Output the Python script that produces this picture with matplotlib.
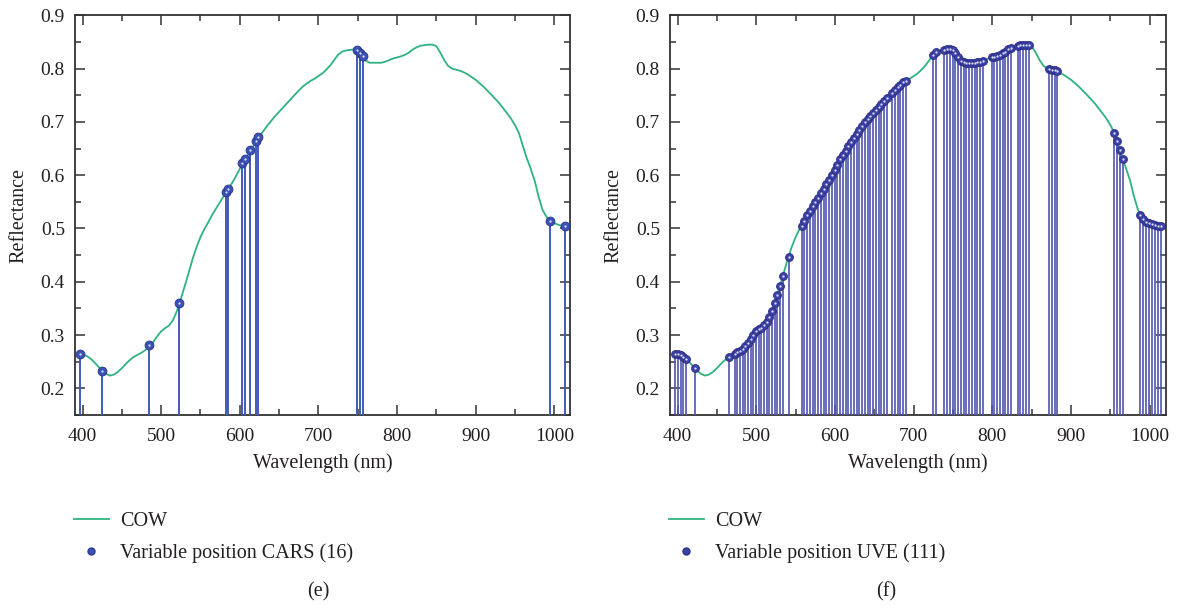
import matplotlib
matplotlib.use('Agg')
import matplotlib.pyplot as plt
from matplotlib.lines import Line2D
from matplotlib.ticker import MultipleLocator

plt.rcParams['font.family'] = ['Liberation Serif', 'DejaVu Serif']

# ---------------- data ----------------
cow_wl = [397, 400, 405, 410, 415, 420, 425, 430, 435, 440, 445, 450, 455, 460, 465,
          470, 475, 480, 485, 490, 495, 500, 505, 510, 515, 520, 525, 530, 535, 540,
          545, 550, 555, 560, 565, 570, 575, 580, 585, 590, 595, 600, 605, 610, 615,
          620, 625, 630, 635, 640, 645, 650, 655, 660, 665, 670, 675, 680, 685, 690,
          695, 700, 705, 710, 715, 720, 725, 730, 735, 740, 745, 750, 755, 760, 765,
          770, 775, 780, 785, 790, 795, 800, 805, 810, 815, 820, 825, 830, 835, 840,
          845, 850, 855, 860, 865, 870, 875, 880, 885, 890, 895, 900, 910, 920, 930,
          940, 945, 950, 955, 960, 965, 970, 975, 980, 985, 990, 995, 1000, 1005, 1010,
          1015, 1019]
cow_refl = [0.265, 0.264, 0.261, 0.256, 0.249, 0.241, 0.233, 0.227, 0.224, 0.226, 0.231, 0.238, 0.246, 0.253, 0.259,
            0.263, 0.267, 0.272, 0.279, 0.287, 0.298, 0.307, 0.313, 0.318, 0.328, 0.345, 0.368, 0.392, 0.417, 0.443,
            0.465, 0.484, 0.499, 0.512, 0.526, 0.538, 0.550, 0.562, 0.574, 0.585, 0.598, 0.612, 0.627, 0.637, 0.649,
            0.661, 0.672, 0.683, 0.693, 0.702, 0.711, 0.719, 0.727, 0.735, 0.743, 0.751, 0.759, 0.766, 0.772, 0.777,
            0.781, 0.786, 0.791, 0.798, 0.806, 0.816, 0.826, 0.832, 0.834, 0.835, 0.836, 0.834, 0.825, 0.815, 0.811,
            0.811, 0.811, 0.811, 0.813, 0.816, 0.819, 0.821, 0.823, 0.826, 0.830, 0.836, 0.840, 0.843, 0.844, 0.845,
            0.845, 0.842, 0.830, 0.816, 0.805, 0.800, 0.798, 0.796, 0.793, 0.789, 0.784, 0.779, 0.766, 0.751, 0.735,
            0.716, 0.706, 0.694, 0.679, 0.655, 0.632, 0.612, 0.590, 0.560, 0.535, 0.522, 0.514, 0.510, 0.507, 0.505,
            0.504, 0.503]

cars_wl = [397, 424.6, 485, 523, 582, 585.6, 602.5, 606, 613, 620.8, 623.3, 749, 753, 756.5, 995, 1013.6]
cars_refl = [0.264, 0.233, 0.282, 0.361, 0.568, 0.575, 0.622, 0.631, 0.647, 0.664, 0.672, 0.834, 0.830, 0.824, 0.514, 0.505]

uve_wl = [397.0, 400.4, 403.8, 407.2, 410.6,
          422.0,
          465.6, 472.4, 475.8, 479.2, 482.6, 486.0, 489.4, 492.8, 496.2, 499.6, 503.0, 506.4, 509.8, 513.2,
          516.6, 520.0, 523.4, 526.8, 530.2, 533.6, 541.0,
          557.5, 561.0, 564.5, 568.0, 571.5, 575.0, 578.5, 582.0, 585.5, 589.0, 592.5, 596.0, 599.5, 603.0,
          606.5, 610.0, 613.5, 617.0, 620.5, 624.0, 627.5, 631.0, 634.5, 638.0, 641.5, 645.0, 648.5, 652.0,
          655.5, 659.0, 662.5, 666.0,
          672.5, 676.0, 679.5, 683.0, 686.5, 690.0,
          724.5, 728.5,
          739.0, 742.5, 746.0, 749.5, 753.0, 756.5, 760.0, 763.5, 767.0, 770.5, 774.0, 777.5, 781.0, 784.5, 788.0,
          799.0, 802.5, 806.0, 809.5, 813.0, 816.5, 820.0, 823.5,
          832.0, 835.5, 839.0, 842.5, 846.0,
          872.0, 875.5, 879.0, 882.5,
          955.0, 958.5, 962.0, 965.5,
          988.0, 991.8, 995.6, 999.4, 1003.2, 1007.0, 1010.8, 1014.6]
uve_refl = [0.265, 0.264, 0.262, 0.259, 0.255,
            0.238,
            0.258, 0.265, 0.268, 0.271, 0.274, 0.279, 0.286, 0.293, 0.300, 0.307, 0.311, 0.314, 0.318, 0.324,
            0.333, 0.345, 0.360, 0.376, 0.393, 0.411, 0.447,
            0.505, 0.515, 0.525, 0.533, 0.542, 0.550, 0.558, 0.567, 0.575, 0.583, 0.591, 0.600, 0.610, 0.620,
            0.630, 0.637, 0.645, 0.654, 0.662, 0.670, 0.678, 0.685, 0.692, 0.699, 0.705, 0.711, 0.717, 0.722,
            0.728, 0.734, 0.739, 0.744,
            0.755, 0.760, 0.766, 0.770, 0.774, 0.777,
            0.826, 0.831,
            0.835, 0.836, 0.836, 0.834, 0.829, 0.822, 0.815, 0.812, 0.811, 0.811, 0.811, 0.811, 0.812, 0.813, 0.815,
            0.821, 0.822, 0.824, 0.826, 0.829, 0.832, 0.836, 0.839,
            0.843, 0.844, 0.845, 0.845, 0.844,
            0.800, 0.798, 0.797, 0.795,
            0.680, 0.665, 0.647, 0.630,
            0.526, 0.518, 0.513, 0.510, 0.508, 0.507, 0.505, 0.504]

x_ticks = [400, 500, 600, 700, 800, 900, 1000]
y_ticks = [0.2, 0.3, 0.4, 0.5, 0.6, 0.7, 0.8, 0.9]
x_limits = (390, 1020)
y_limits = (0.15, 0.9)

panels = [
    dict(wl=cars_wl, refl=cars_refl, label='Variable position CARS (16)', tag='(e)',
         stem='#3f5cb8', mface='#3c52b4', medge='#2b3a93', ms=6.3, slw=1.4),
    dict(wl=uve_wl, refl=uve_refl, label='Variable position UVE (111)', tag='(f)',
         stem='#5055b0', mface='#3d42a6', medge='#2c2f86', ms=5.6, slw=1.2),
]
green = '#2fb37e'
text_color = '#231f20'

fig = plt.figure(figsize=(11.78, 6.08), dpi=100)
axes_rects = [[0.0634, 0.3174, 0.4205, 0.6574], [0.5685, 0.3174, 0.4209, 0.6574]]
legend_x = [0.0625, 0.5675]
tag_x = [0.270, 0.752]

for rect, p, lx, tx in zip(axes_rects, panels, legend_x, tag_x):
    ax = fig.add_axes(rect)
    ax.plot(cow_wl, cow_refl, color=green, lw=1.3, zorder=2)
    ax.vlines(p['wl'], 0, p['refl'], colors=p['stem'], lw=p['slw'], zorder=3)
    ax.plot(p['wl'], p['refl'], 'o', ms=p['ms'], mfc=p['mface'], mec=p['medge'], mew=0.7, zorder=4)
    ax.plot(p['wl'], p['refl'], 'o', ms=1.6, mfc='#dfe3ff', mec='none', zorder=5)

    ax.set_xlim(*x_limits)
    ax.set_ylim(*y_limits)
    ax.set_xticks(x_ticks)
    ax.set_yticks(y_ticks)
    ax.set_yticklabels([f'{v:.1f}' for v in y_ticks])
    ax.xaxis.set_minor_locator(MultipleLocator(50))
    ax.yaxis.set_minor_locator(MultipleLocator(0.05))
    ax.tick_params(which='both', direction='in', top=True, right=True,
                   labelsize=14, colors='#333333', labelcolor=text_color, width=1.1)
    ax.tick_params(which='major', length=7)
    ax.tick_params(axis='x', which='major', pad=9)
    ax.tick_params(axis='y', which='major', pad=7)
    ax.tick_params(which='minor', length=4)
    for s in ax.spines.values():
        s.set_linewidth(1.3)
        s.set_color('#333333')
    ax.set_xlabel('Wavelength (nm)', fontsize=14.5, color=text_color, labelpad=6)
    ax.set_ylabel('Reflectance', fontsize=14.5, color=text_color, labelpad=9)

    handles = [Line2D([], [], color=green, lw=1.3),
               Line2D([], [], ls='none', marker='o', ms=5, mfc=p['mface'], mec=p['medge'])]
    fig.legend(handles, ['COW', p['label']], loc='upper left', bbox_to_anchor=(lx, 0.158),
               frameon=False, fontsize=14.5, handlelength=1.75, handletextpad=0.55,
               labelspacing=0.6, borderpad=0, borderaxespad=0, labelcolor=text_color)
    fig.text(tx, 0.027, p['tag'], ha='center', va='center', fontsize=14.5, color=text_color)

fig.savefig('out.png', dpi=100)
